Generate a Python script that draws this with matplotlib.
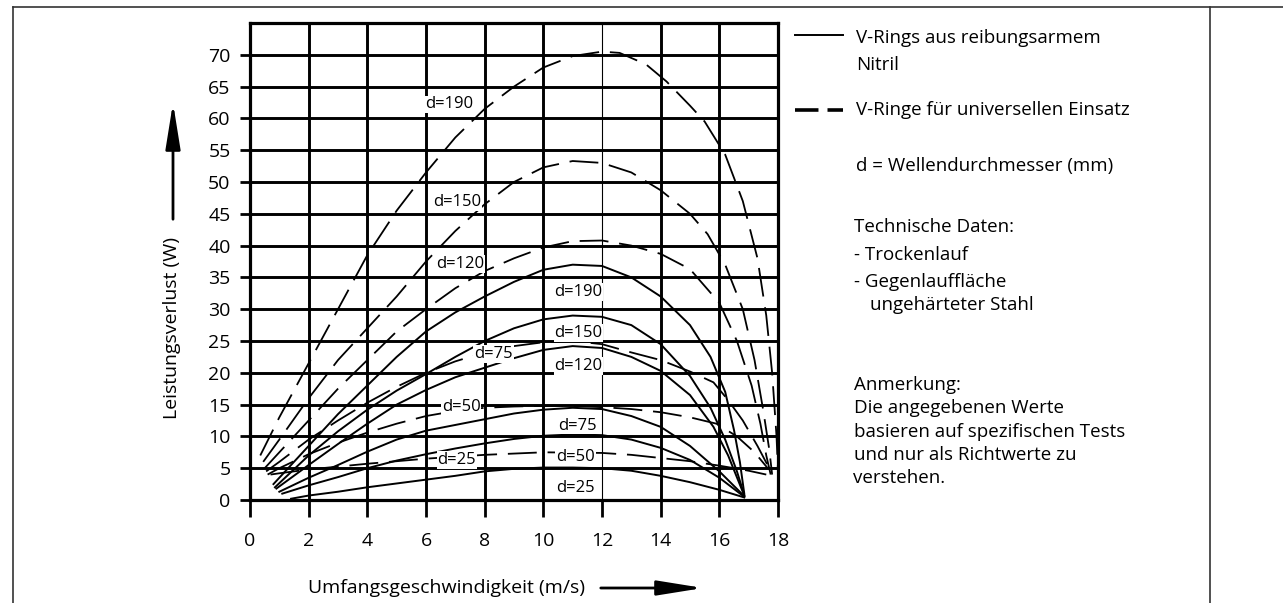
import matplotlib
matplotlib.use("Agg")
import matplotlib.pyplot as plt
from matplotlib.lines import Line2D
from matplotlib.patches import FancyArrowPatch

plt.rcParams["font.family"] = ["Open Sans", "DejaVu Sans"]

W, H = 1283, 603

# shaft diameters (mm)
diameters = [190, 150, 120, 75, 50, 25]

# V-Ringe fuer universellen Einsatz (dashed)
uni_x_190 = [0.35, 1, 2, 3, 4, 5, 6, 7, 8, 9, 10, 11, 12, 12.6, 13.5, 14.2, 15, 15.5, 16.2, 16.8, 17.3, 17.6, 17.8, 17.95, 18.0]
uni_y_190 = [7, 13, 21.5, 30, 38.5, 45.5, 51.5, 57, 61.5, 65, 68, 69.8, 70.5, 70.3, 68.5, 65.8, 62, 59.5, 54.3, 47, 38, 29, 20, 10, 4.5]
uni_x_150 = [0.45, 1, 2, 3, 4, 5, 6, 7, 8, 9, 10, 11, 12, 13, 14, 15, 15.6, 16.2, 16.8, 17.2, 17.5, 17.7, 17.8]
uni_y_150 = [6, 9.5, 16, 22, 27, 32, 37.5, 42.3, 46.5, 50, 52.3, 53.3, 53, 51.5, 48.7, 45, 41.8, 37, 30, 22, 14, 8, 4]
uni_x_120 = [0.5, 1, 2, 3, 4, 5, 6, 7, 8, 9, 10, 11, 12, 13, 14, 15, 16, 16.6, 17.1, 17.4, 17.6, 17.75]
uni_y_120 = [5, 7.5, 12.5, 17.5, 22, 26.5, 30, 33.3, 36, 38, 39.7, 40.7, 40.8, 40, 38.7, 36.3, 31, 25, 18, 12, 7, 4]
uni_x_75 = [0.55, 1, 2, 3, 4, 5, 6, 7, 8, 9, 10, 11, 12, 13, 14, 15, 15.8, 16.3, 16.8, 17.3, 17.7]
uni_y_75 = [4.5, 6, 9.5, 12.5, 15.3, 17.8, 20, 21.8, 23.2, 24.2, 24.8, 25, 24.5, 23.2, 22, 20.2, 18.5, 15.7, 12.5, 8.5, 5]
uni_x_50 = [0.6, 1, 2, 3, 4, 5, 6, 7, 8, 9, 10, 11, 12, 13, 14, 15, 15.9, 16.6, 17.2, 17.65]
uni_y_50 = [4, 5, 7.2, 9, 10.6, 12, 13.2, 14, 14.5, 14.7, 14.8, 14.8, 14.6, 14.3, 13.8, 13, 12, 10, 7.5, 5]
uni_x_25 = [0.7, 1, 2, 4, 6, 8, 10, 12, 13, 14, 15, 16, 17, 17.6]
uni_y_25 = [4, 4.2, 4.8, 5.7, 6.5, 7.1, 7.5, 7.4, 7.1, 6.6, 6.1, 5.4, 4.6, 4]

# V-Rings aus reibungsarmem Nitril (solid)
nbr_x_190 = [0.8, 1.5, 2, 3, 4, 5, 6, 7, 8, 9, 10, 11, 12, 13, 14, 15, 15.7, 16.2, 16.5, 16.7, 16.85]
nbr_y_190 = [2.5, 6, 8.5, 13.5, 18, 22.5, 26.5, 29.5, 32, 34.3, 36.2, 37, 36.8, 35, 32, 27.5, 22.5, 17, 11, 6, 1]
nbr_x_150 = [0.85, 2, 3, 4, 5, 6, 7, 8, 9, 10, 11, 12, 13, 14, 15, 15.7, 16.2, 16.6, 16.85]
nbr_y_150 = [2, 7, 10.8, 14.2, 17.2, 19.8, 22.5, 25, 27, 28.4, 29, 28.8, 27.5, 24.5, 19.5, 14.5, 9.5, 4.5, 0.8]
nbr_x_120 = [0.9, 2, 3, 4, 5, 6, 7, 8, 9, 10, 11, 12, 13, 14, 15, 15.8, 16.3, 16.85]
nbr_y_120 = [1.8, 5.5, 8.8, 12, 15, 17.3, 19.3, 20.8, 22.3, 23.6, 24.2, 23.9, 22.5, 20.3, 16.5, 11.5, 7, 0.7]
nbr_x_75 = [1, 2, 3, 4, 5, 6, 7, 8, 9, 10, 11, 12, 13, 14, 15, 16, 16.85]
nbr_y_75 = [1.3, 3.5, 5.5, 7.6, 9.5, 10.9, 11.8, 12.7, 13.6, 14.2, 14.5, 14.3, 13.2, 11.5, 8.5, 4.5, 0.6]
nbr_x_50 = [1.1, 2, 3, 4, 5, 6, 7, 8, 9, 10, 11, 12, 13, 14, 15, 16, 16.85]
nbr_y_50 = [1, 2.3, 3.6, 5, 6.2, 7.2, 8.1, 8.9, 9.6, 10.1, 10.3, 10.2, 9.5, 8.2, 6.3, 3.5, 0.5]
nbr_x_25 = [1.4, 2, 3, 4, 5, 6, 7, 8, 9, 10, 11, 12, 13, 14, 15, 16, 16.85]
nbr_y_25 = [0.2, 0.7, 1.3, 2, 2.6, 3.2, 3.8, 4.5, 4.9, 5.1, 5.1, 5, 4.6, 3.8, 2.8, 1.6, 0.4]

uni_curves = [(uni_x_190, uni_y_190), (uni_x_150, uni_y_150), (uni_x_120, uni_y_120),
              (uni_x_75, uni_y_75), (uni_x_50, uni_y_50), (uni_x_25, uni_y_25)]
nbr_curves = [(nbr_x_190, nbr_y_190), (nbr_x_150, nbr_y_150), (nbr_x_120, nbr_y_120),
              (nbr_x_75, nbr_y_75), (nbr_x_50, nbr_y_50), (nbr_x_25, nbr_y_25)]

x_ticks = list(range(0, 19, 2))
y_ticks = list(range(0, 71, 5))


def fx(px):
    return px / W


def fy(py):
    return 1 - py / H


fig = plt.figure(figsize=(W / 100, H / 100), dpi=100)
fig.patch.set_facecolor("white")

ax = fig.add_axes([fx(250), fy(500), fx(778) - fx(250), fy(23) - fy(500)])
ax.set_xlim(0, 18)
ax.set_ylim(0, 75)
ax.set_xticks(x_ticks)
ax.set_yticks(y_ticks)
ax.tick_params(axis="x", length=12, width=2, pad=11, labelsize=14)
ax.tick_params(axis="y", length=7, width=2, pad=7, labelsize=14)
for s in ax.spines.values():
    s.set_linewidth(2.3)
ax.grid(True, color="black", linewidth=2.1)
# the 12 m/s line is printed thin
ax.get_xgridlines()[6].set_linewidth(0.8)
ax.set_axisbelow(True)

for (xs, ys) in uni_curves:
    ax.plot(xs, ys, color="black", lw=1.3, dashes=(16, 6), zorder=3)
for (xs, ys) in nbr_curves:
    ax.plot(xs, ys, color="black", lw=1.4, zorder=3)

# curve labels
nbr_label_pos = [(11.2, 32.7), (11.2, 26.3), (11.2, 21.1), (11.15, 11.7), (11.1, 6.8), (11.1, 1.9)]
uni_label_pos = [(6.8, 62.2), (7.05, 46.8), (7.15, 37.1), (8.3, 23.0), (7.2, 14.7), (7.05, 6.3)]
box = dict(facecolor="white", edgecolor="none", pad=0.6)
for d, (lx, ly) in zip(diameters, nbr_label_pos):
    ax.text(lx, ly, f"d={d}", ha="center", va="center", fontsize=12, bbox=box, zorder=5)
for d, (lx, ly) in zip(diameters, uni_label_pos):
    ax.text(lx, ly, f"d={d}", ha="center", va="center", fontsize=12, bbox=box, zorder=5)

# axis titles with arrows
fig.text(fx(172), fy(328), "Leistungsverlust (W)", rotation=90, ha="center", va="center", fontsize=14)
fig.add_artist(FancyArrowPatch((fx(173), fy(222)), (fx(173), fy(100)), transform=fig.transFigure,
                               arrowstyle="-|>,head_length=2.8,head_width=0.45", mutation_scale=10,
                               lw=2, color="black"))
fig.text(fx(308), fy(588), "Umfangsgeschwindigkeit (m/s)", ha="left", va="center", fontsize=14)
fig.add_artist(FancyArrowPatch((fx(598), fy(588)), (fx(706), fy(588)), transform=fig.transFigure,
                               arrowstyle="-|>,head_length=2.8,head_width=0.45", mutation_scale=10,
                               lw=2, color="black"))

# legend and notes
fig.add_artist(Line2D([fx(795), fx(843)], [fy(35), fy(35)], color="black", lw=1.4))
fig.add_artist(Line2D([fx(795), fx(843)], [fy(110), fy(110)], color="black", lw=2.6, dashes=(6.5, 2.5)))
notes = [
    (856, 38, "V-Rings aus reibungsarmem"),
    (856, 65, "Nitril"),
    (856, 110, "V-Ringe für universellen Einsatz"),
    (856, 166, "d = Wellendurchmesser (mm)"),
    (854, 227, "Technische Daten:"),
    (854, 255, "- Trockenlauf"),
    (854, 282, "- Gegenlauffläche"),
    (870, 305, "ungehärteter Stahl"),
    (854, 385, "Anmerkung:"),
    (854, 408, "Die angegebenen Werte"),
    (854, 432, "basieren auf spezifischen Tests"),
    (854, 455, "und nur als Richtwerte zu"),
    (853, 478, "verstehen."),
]
for px, py, txt in notes:
    fig.text(fx(px), fy(py), txt, ha="left", va="center", fontsize=13.5)

# outer frame of the table cell
frame = dict(color="#333333", lw=1.2)
fig.add_artist(Line2D([fx(13), fx(13)], [fy(7), 0], **frame))
fig.add_artist(Line2D([fx(13), 1], [fy(7), fy(7)], **frame))
fig.add_artist(Line2D([fx(1210), fx(1210)], [fy(7), 0], **frame))

fig.savefig("out.png", dpi=100)
